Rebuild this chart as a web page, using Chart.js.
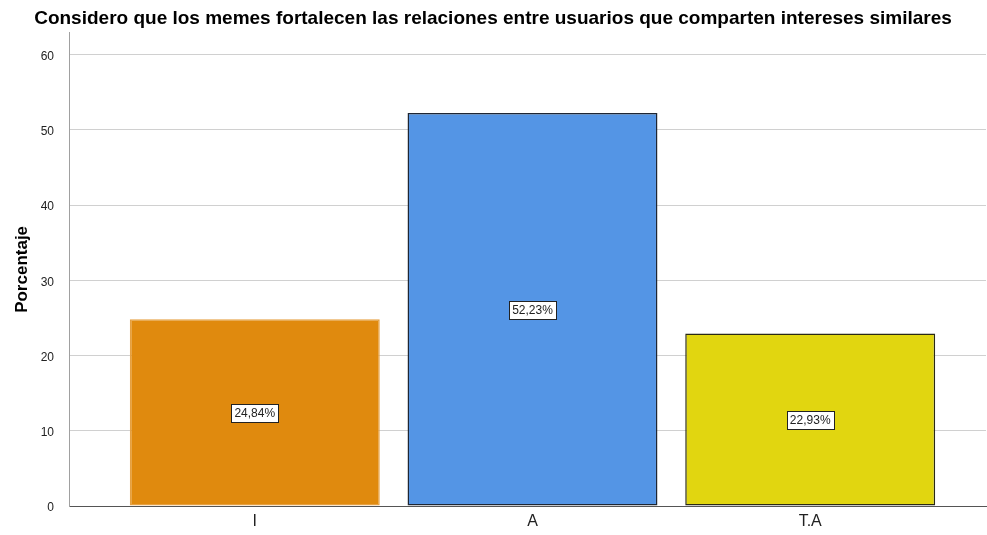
<!DOCTYPE html>
<html>
<head>
<meta charset="utf-8">
<script src="https://cdn.jsdelivr.net/npm/chart.js@4"></script>
<style>
  html, body { margin: 0; padding: 0; background: #fff; }
  #wrap { width: 987px; height: 535px; }
</style>
</head>
<body>
<div id="wrap"><canvas id="chart"></canvas></div>
<script>
  'use strict';

  // Data.
  const categories = ['I', 'A', 'T.A'];
  const percentages = [24.84, 52.23, 22.93];
  const barColors = ['#E08A0E', '#5495E5', '#E1D610'];
  const barBorders = ['#E6A040', '#1E2633', '#2A2A14'];
  const yTicks = [0, 10, 20, 30, 40, 50, 60];

  // ===========================================================================
  // PLUGINS
  // ===========================================================================

  // Boxed percentage label at the middle of each bar.
  const barLabels = {
    id: 'barLabels',
    afterDatasetsDraw(chart) {
      const ctx = chart.ctx;
      const y = chart.scales.y;
      const meta = chart.getDatasetMeta(0);
      ctx.save();
      ctx.font = '12px "Liberation Sans", Arial, sans-serif';
      ctx.textAlign = 'center';
      ctx.textBaseline = 'middle';
      meta.data.forEach((bar, i) => {
        const text = percentages[i].toFixed(2).replace('.', ',') + '%';
        const cy = Math.round(y.getPixelForValue(percentages[i] / 2));
        const w = Math.ceil(ctx.measureText(text).width) + 6;
        const h = 18;
        const x0 = Math.round(bar.x - w / 2) + 0.5;
        const y0 = cy - h / 2 + 0.5;
        ctx.fillStyle = '#ffffff';
        ctx.fillRect(x0, y0, w, h);
        ctx.strokeStyle = '#222222';
        ctx.lineWidth = 1;
        ctx.strokeRect(x0, y0, w, h);
        ctx.fillStyle = '#222222';
        ctx.fillText(text, bar.x, cy + 1);
      });
      ctx.restore();
    },
  };

  // ===========================================================================
  // CHART
  // ===========================================================================

  new Chart(document.getElementById('chart'), {
    type: 'bar',
    data: {
      datasets: [{
        data: percentages.map((v, i) => ({ x: i, y: v })),
        backgroundColor: barColors,
        borderColor: barBorders,
        borderWidth: 1.5,
        borderSkipped: false,
        categoryPercentage: 1,
        barPercentage: 0.9,
      }],
    },
    options: {
      responsive: true,
      maintainAspectRatio: false,
      animation: false,
      layout: { padding: { left: 0, right: 1, top: 0, bottom: 0 } },
      plugins: {
        legend: { display: false },
        tooltip: { enabled: false },
        title: {
          display: true,
          text: 'Considero que los memes fortalecen las relaciones entre usuarios que comparten intereses similares',
          color: '#000000',
          font: { family: '"Liberation Sans", Arial, sans-serif', size: 19, weight: 'bold', lineHeight: 1.2 },
          padding: { top: 7, bottom: 3 },
        },
      },
      scales: {
        x: {
          type: 'linear',
          offset: false,
          bounds: 'ticks',
          min: -0.669,
          max: 2.633,
          grid: { display: false, drawTicks: false },
          border: { display: true, color: '#555555', width: 1 },
          afterBuildTicks: axis => { axis.ticks = categories.map((c, i) => ({ value: i })); },
          afterFit: axis => { axis.height = 29; },
          ticks: {
            padding: 6,
            color: '#222222',
            font: { family: '"Liberation Sans", Arial, sans-serif', size: 16 },
            callback: v => categories[v],
          },
        },
        y: {
          min: 0,
          max: 62.9,
          afterBuildTicks: axis => { axis.ticks = yTicks.map(v => ({ value: v })); },
          afterFit: axis => { axis.width = 69; },
          grid: { color: '#d0d0d0', lineWidth: 1, drawTicks: false },
          border: { display: true, color: '#a0a0a0', width: 1 },
          ticks: {
            padding: 15,
            labelOffset: 2,
            color: '#222222',
            font: { family: '"Liberation Sans", Arial, sans-serif', size: 12 },
          },
          title: {
            display: true,
            text: 'Porcentaje',
            color: '#000000',
            font: { family: '"Liberation Sans", Arial, sans-serif', size: 17, weight: 'bold', lineHeight: 1.2 },
            padding: { top: 12, bottom: 0 },
          },
        },
      },
    },
    plugins: [barLabels],
  });
</script>
</body>
</html>
